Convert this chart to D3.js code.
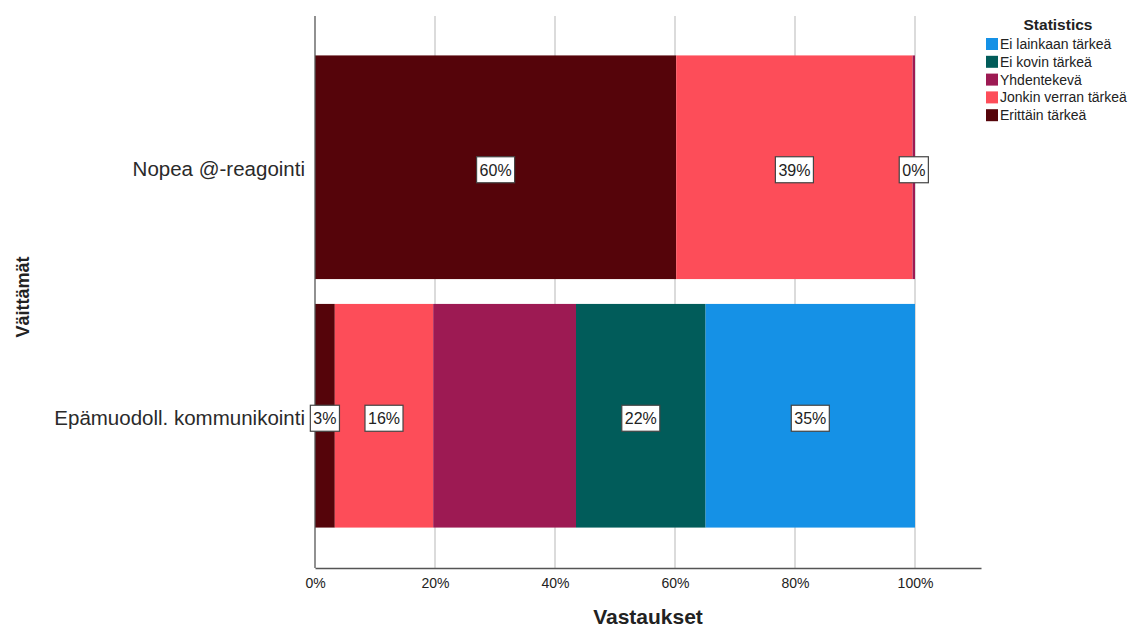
<!DOCTYPE html>
<html>
<head>
<meta charset="utf-8">
<script src="https://cdn.jsdelivr.net/npm/d3@7"></script>
<style>
  html, body { margin: 0; padding: 0; background: #fff; }
  svg { display: block; font-family: "Liberation Sans", Arial, sans-serif; }
</style>
</head>
<body>
<svg id="chart" width="1133" height="629"></svg>
<script>
// Statements (categories) and response shares in percent
const categories = ["Nopea @-reagointi", "Epämuodoll. kommunikointi"];
const seriesNames = ["Erittäin tärkeä", "Jonkin verran tärkeä", "Yhdentekevä", "Ei kovin tärkeä", "Ei lainkaan tärkeä"];
const erittain    = [60.2, 3.3];
const jonkin      = [39.4, 16.4];
const yhdentekeva = [0.4, 23.8];
const eiKovin     = [0.0, 21.6];
const eiLainkaan  = [0.0, 34.9];
// Which segments carry a value label
const showLabel = [[true, true], [true, true], [true, false], [false, true], [false, true]];
const seriesColors = ["#55040A", "#FD4D59", "#9D1A53", "#015C5A", "#1591E6"];
const xTicks = [0, 20, 40, 60, 80, 100];
const legendOrder = ["Ei lainkaan tärkeä", "Ei kovin tärkeä", "Yhdentekevä", "Jonkin verran tärkeä", "Erittäin tärkeä"];

const values = [erittain, jonkin, yhdentekeva, eiKovin, eiLainkaan];
const rows = categories.map((c, i) => {
  const r = { category: c };
  seriesNames.forEach((s, k) => r[s] = values[k][i]);
  return r;
});
const stacked = d3.stack().keys(seriesNames)(rows);

const svg = d3.select("#chart");
const plot = { left: 315, right: 981, top: 16, bottom: 568 };

const x = d3.scaleLinear().domain([0, 111]).range([plot.left, plot.right]);
const y = d3.scaleBand().domain(categories).range([43, 540]).paddingInner(0.1).paddingOuter(0.05);
const color = d3.scaleOrdinal().domain(seriesNames).range(seriesColors);

// Vertical gridlines
svg.append("g").selectAll("line").data(xTicks.filter(t => t > 0)).join("line")
  .attr("x1", d => x(d)).attr("x2", d => x(d))
  .attr("y1", plot.top).attr("y2", plot.bottom)
  .attr("stroke", "#cfcfcf").attr("stroke-width", 1.5);

// Stacked bars
const layers = svg.append("g").selectAll("g").data(stacked).join("g")
  .attr("fill", d => color(d.key));
layers.selectAll("rect").data(d => d).join("rect")
  .attr("x", d => x(d[0]))
  .attr("width", d => Math.max(0, x(d[1]) - x(d[0])))
  .attr("y", d => y(d.data.category))
  .attr("height", y.bandwidth());

// Axes
const xAxis = d3.axisBottom(x).tickValues(xTicks).tickFormat(d => d + "%").tickSize(0).tickPadding(10);
const gx = svg.append("g").attr("transform", `translate(0,${plot.bottom})`).call(xAxis);
gx.select(".domain").attr("stroke", "#555").attr("stroke-width", 1.3);
gx.selectAll("text").attr("font-size", 14).attr("fill", "#222");

const yAxis = d3.axisLeft(y).tickSize(0).tickPadding(10);
const gy = svg.append("g").attr("transform", `translate(${plot.left},0)`).call(yAxis);
gy.select(".domain").remove();
gy.selectAll("text").attr("font-size", 20.5).attr("fill", "#2a2a2a").attr("dy", "0.45em");
svg.append("line").attr("x1", plot.left).attr("x2", plot.left)
  .attr("y1", plot.top).attr("y2", plot.bottom)
  .attr("stroke", "#555").attr("stroke-width", 1.3);

// Value labels in boxes
const labelData = [];
stacked.forEach((layer, k) => layer.forEach((d, i) => {
  if (showLabel[k][i]) labelData.push({ v: values[k][i], x0: d[0], x1: d[1], cat: d.data.category });
}));
const lab = svg.append("g").selectAll("g").data(labelData).join("g")
  .attr("transform", d => `translate(${x((d.x0 + d.x1) / 2)},${y(d.cat) + y.bandwidth() / 2 + 2.5})`);
lab.each(function (d) {
  const g = d3.select(this);
  const t = g.append("text").text(Math.round(d.v) + "%")
    .attr("font-size", 16).attr("fill", "#222")
    .attr("text-anchor", "middle").attr("dy", "0.36em");
  const bb = t.node().getBBox();
  g.insert("rect", "text")
    .attr("x", bb.x - 3).attr("y", -13)
    .attr("width", bb.width + 6).attr("height", 26)
    .attr("fill", "#fff").attr("stroke", "#444").attr("stroke-width", 1.2);
});

// Axis titles
svg.append("text").text("Vastaukset")
  .attr("x", 648).attr("y", 624).attr("text-anchor", "middle")
  .attr("font-size", 21).attr("font-weight", "bold").attr("fill", "#222");
svg.append("text").text("Väittämät")
  .attr("transform", "translate(29,297) rotate(-90)").attr("text-anchor", "middle")
  .attr("font-size", 18).attr("font-weight", "bold").attr("fill", "#222");

// Legend
const legend = svg.append("g").attr("transform", "translate(986,0)");
legend.append("text").text("Statistics")
  .attr("x", 72).attr("y", 30).attr("text-anchor", "middle")
  .attr("font-size", 15.5).attr("font-weight", "bold").attr("fill", "#222");
const li = legend.selectAll("g.item").data(legendOrder).join("g").attr("class", "item")
  .attr("transform", (d, i) => `translate(0,${38 + i * 17.8})`);
li.append("rect").attr("width", 12).attr("height", 12).attr("fill", d => color(d));
li.append("text").text(d => d).attr("x", 14).attr("y", 11)
  .attr("font-size", 14).attr("fill", "#222");
</script>
</body>
</html>
